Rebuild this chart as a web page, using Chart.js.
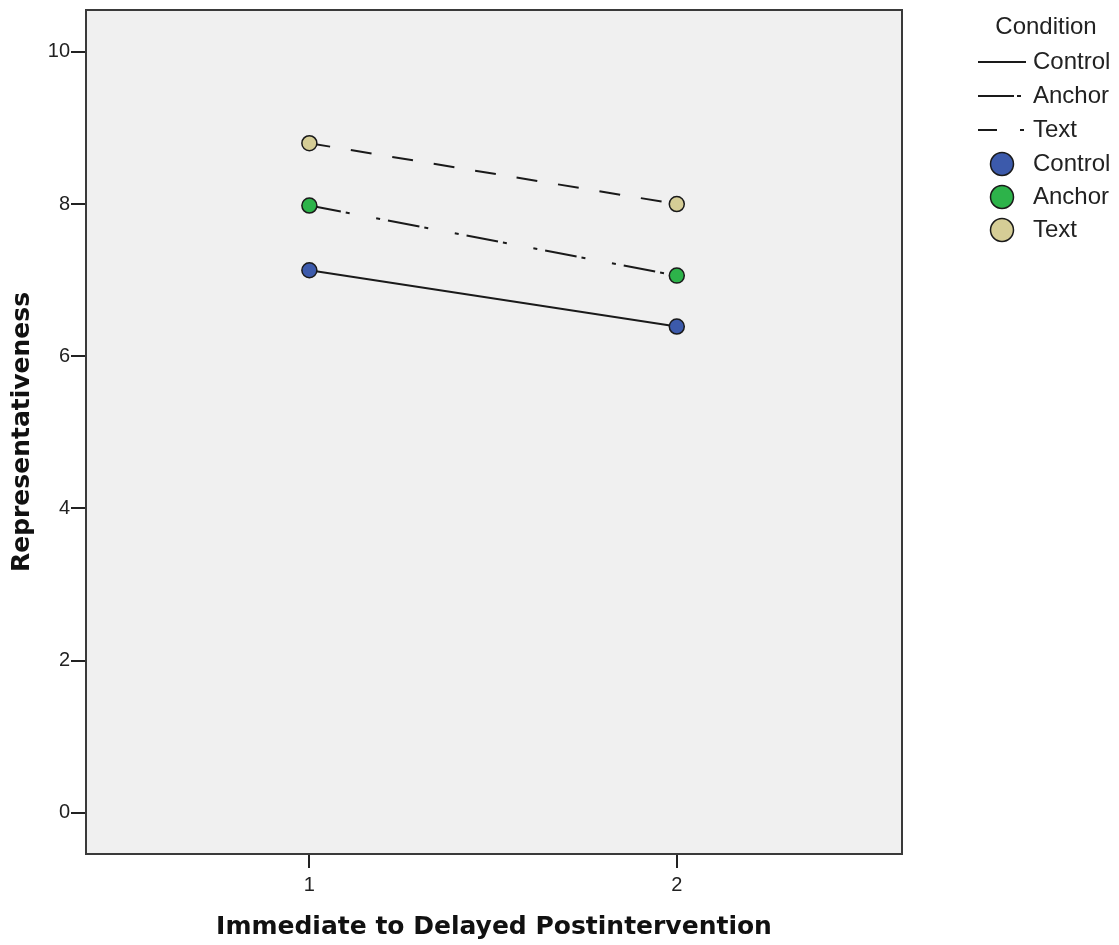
<!DOCTYPE html>
<html>
<head>
<meta charset="utf-8">
<script src="https://cdn.jsdelivr.net/npm/chart.js@4"></script>
<style>
  html, body { margin: 0; padding: 0; background: #fff; }
  #wrap { width: 1119px; height: 945px; position: relative; }
</style>
</head>
<body>
<div id="wrap"><canvas id="c" width="1119" height="945"></canvas></div>
<script>
// ---- data ----
const xValues = [1, 2];
const seriesNames = ["Control", "Anchor", "Text"];
const controlValues = [7.13, 6.39];
const anchorValues = [7.98, 7.06];
const textValues = [8.80, 8.00];
const yTickValues = [0, 2, 4, 6, 8, 10];
const xTickValues = [1, 2];
const legendTitle = "Condition";
const xTitle = "Immediate to Delayed Postintervention";
const yTitle = "Representativeness";

// ---- styles ----
const fillColors = ["#3c5aab", "#2db34a", "#d5cd96"];
const dashes = [[], [32, 5, 4, 27, 4, 8], [21, 21]];
const seriesValues = [controlValues, anchorValues, textValues];

function pts(vals) { return xValues.map((x, i) => ({ x: x, y: vals[i] })); }

const datasets = seriesNames.map((name, i) => ({
  label: name,
  data: pts(seriesValues[i]),
  borderColor: "#1a1a1a",
  borderWidth: 2,
  borderDash: dashes[i],
  pointRadius: 7.5,
  pointHoverRadius: 7.5,
  pointBackgroundColor: fillColors[i],
  pointBorderColor: "#1a1a1a",
  pointBorderWidth: 1.5,
  fill: false,
  tension: 0
}));

const plotDecor = {
  id: "plotDecor",
  beforeDatasetsDraw(chart) {
    const { ctx, chartArea: a } = chart;
    ctx.save();
    ctx.fillStyle = "#f0f0f0";
    ctx.fillRect(a.left, a.top, a.right - a.left, a.bottom - a.top);
    ctx.restore();
  },
  afterDatasetsDraw(chart) {
    const { ctx, chartArea: a } = chart;
    ctx.save();
    ctx.strokeStyle = "#3a3a3a";
    ctx.lineWidth = 2;
    ctx.strokeRect(a.left, a.top, a.right - a.left, a.bottom - a.top);
    ctx.restore();
  },
  afterDraw(chart) {
    const ctx = chart.ctx;
    ctx.save();
    ctx.fillStyle = "#222";
    ctx.textBaseline = "middle";
    ctx.font = "24px 'Liberation Sans', Arial, sans-serif";
    ctx.textAlign = "center";
    ctx.fillText(legendTitle, 1046, 27);
    ctx.textAlign = "left";
    const rowY = [62, 96, 130, 164, 197, 230];
    // line samples
    seriesNames.forEach((name, i) => {
      const y = rowY[i];
      ctx.strokeStyle = "#1a1a1a";
      ctx.lineWidth = 2;
      ctx.beginPath();
      if (i === 0) { ctx.moveTo(978, y); ctx.lineTo(1026, y); }
      else if (i === 1) { ctx.moveTo(978, y); ctx.lineTo(1014, y); ctx.moveTo(1017, y); ctx.lineTo(1021, y); }
      else { ctx.moveTo(978, y); ctx.lineTo(997, y); ctx.moveTo(1020, y); ctx.lineTo(1024, y); }
      ctx.stroke();
      ctx.fillStyle = "#222";
      ctx.fillText(name, 1033, y);
    });
    // marker samples
    seriesNames.forEach((name, i) => {
      const y = rowY[i + 3];
      ctx.beginPath();
      ctx.arc(1002, y, 11.5, 0, Math.PI * 2);
      ctx.fillStyle = fillColors[i];
      ctx.fill();
      ctx.lineWidth = 1.5;
      ctx.strokeStyle = "#1a1a1a";
      ctx.stroke();
      ctx.fillStyle = "#222";
      ctx.fillText(name, 1033, y);
    });
    ctx.restore();
  }
};

new Chart(document.getElementById("c"), {
  type: "line",
  data: { datasets: datasets },
  options: {
    responsive: false,
    animation: false,
    events: [],
    layout: { padding: { left: 0, right: 217, top: 10, bottom: 0 } },
    plugins: { legend: { display: false }, tooltip: { enabled: false } },
    scales: {
      x: {
        type: "linear",
        min: 0.392,
        max: 2.613,
        afterBuildTicks(s) { s.ticks = xTickValues.map(v => ({ value: v })); },
        afterFit(s) { s.height = 91; s.paddingLeft = 0; s.paddingRight = 0; },
        grid: { drawOnChartArea: false, drawTicks: true, tickLength: 14, color: "#222", lineWidth: 2 },
        border: { display: false },
        ticks: { color: "#222", font: { family: "'Liberation Sans', Arial, sans-serif", size: 20 }, padding: 5, maxRotation: 0 },
        title: { display: true, text: xTitle, color: "#111", font: { family: "'DejaVu Sans', sans-serif", size: 25, weight: "bold" }, padding: { top: 10, bottom: 3 } }
      },
      y: {
        type: "linear",
        min: -0.54,
        max: 10.55,
        afterBuildTicks(s) { s.ticks = yTickValues.map(v => ({ value: v })); },
        afterFit(s) { s.width = 86; s.paddingTop = 0; s.paddingBottom = 0; },
        grid: { drawOnChartArea: false, drawTicks: true, tickLength: 15, color: "#222", lineWidth: 2 },
        border: { display: false },
        ticks: { color: "#222", font: { family: "'Liberation Sans', Arial, sans-serif", size: 20 }, padding: 1 },
        title: { display: true, text: yTitle, color: "#111", font: { family: "'DejaVu Sans', sans-serif", size: 25, weight: "bold" }, padding: { top: 7, bottom: 8 } }
      }
    }
  },
  plugins: [plotDecor]
});
</script>
</body>
</html>
